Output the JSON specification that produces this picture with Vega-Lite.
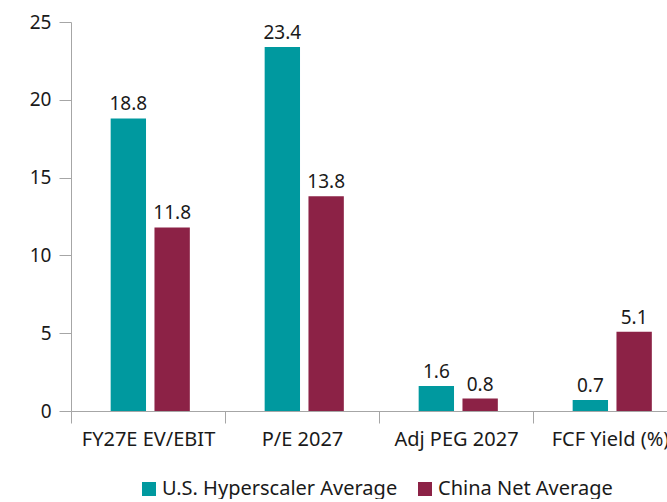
{
  "$schema": "https://vega.github.io/schema/vega-lite/v6.json",
  "width": 616,
  "height": 389,
  "padding": {"left": 29, "top": 13, "right": 0, "bottom": 0},
  "autosize": {"type": "pad"},
  "config": {
    "view": {"stroke": null},
    "font": "Noto Sans",
    "axis": {
      "labelFont": "Noto Sans",
      "labelFontSize": 19,
      "labelColor": "#1a1a1a",
      "domainColor": "#a6a6a6",
      "tickColor": "#a6a6a6",
      "tickSize": 12,
      "grid": false,
      "title": null
    },
    "legend": {
      "labelFont": "Noto Sans",
      "labelFontSize": 20,
      "labelColor": "#1a1a1a",
      "labelLimit": 400
    }
  },
  "data": {
    "values": [
      {"metric": "FY27E EV/EBIT", "series": "U.S. Hyperscaler Average", "value": 18.8},
      {"metric": "FY27E EV/EBIT", "series": "China Net Average", "value": 11.8},
      {"metric": "P/E 2027", "series": "U.S. Hyperscaler Average", "value": 23.4},
      {"metric": "P/E 2027", "series": "China Net Average", "value": 13.8},
      {"metric": "Adj PEG 2027", "series": "U.S. Hyperscaler Average", "value": 1.6},
      {"metric": "Adj PEG 2027", "series": "China Net Average", "value": 0.8},
      {"metric": "FCF Yield (%)", "series": "U.S. Hyperscaler Average", "value": 0.7},
      {"metric": "FCF Yield (%)", "series": "China Net Average", "value": 5.1}
    ]
  },
  "encoding": {
    "x": {
      "field": "metric",
      "type": "nominal",
      "sort": ["FY27E EV/EBIT", "P/E 2027", "Adj PEG 2027", "FCF Yield (%)"],
      "scale": {"paddingInner": 0, "paddingOuter": 0},
      "axis": {"labelAngle": 0, "tickBand": "extent", "labelPadding": 6, "labelFontSize": 20}
    },
    "xOffset": {
      "field": "series",
      "type": "nominal",
      "sort": ["U.S. Hyperscaler Average", "China Net Average"],
      "scale": {"paddingInner": 0.193, "paddingOuter": 0.854, "align": 0.53}
    },
    "y": {
      "field": "value",
      "type": "quantitative",
      "scale": {"domain": [0, 25], "nice": false},
      "axis": {"values": [0, 5, 10, 15, 20, 25], "labelPadding": 8}
    }
  },
  "layer": [
    {
      "mark": {"type": "bar"},
      "encoding": {
        "color": {
          "field": "series",
          "type": "nominal",
          "sort": ["U.S. Hyperscaler Average", "China Net Average"],
          "scale": {"domain": ["U.S. Hyperscaler Average", "China Net Average"], "range": ["#00999f", "#8c2246"]},
          "legend": {
            "orient": "none",
            "legendX": 68,
            "legendY": 457,
            "padding": 0,
            "direction": "horizontal",
            "title": null,
            "symbolType": "square",
            "symbolSize": 196,
            "symbolStrokeWidth": 0,
            "labelOffset": 3,
            "columnPadding": 17
          }
        }
      }
    },
    {
      "mark": {"type": "text", "baseline": "alphabetic", "dy": -8, "fontSize": 19, "color": "#1a1a1a", "font": "Noto Sans"},
      "encoding": {
        "text": {"field": "value", "type": "quantitative", "format": ".1f"}
      }
    }
  ]
}
